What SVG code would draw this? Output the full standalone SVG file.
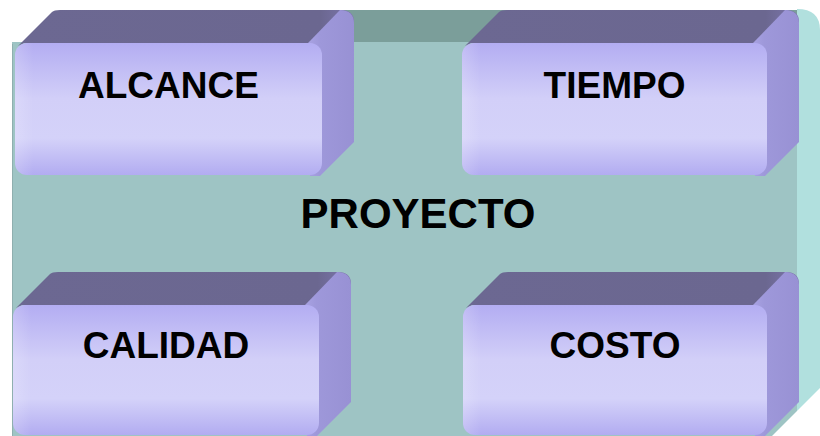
<svg xmlns="http://www.w3.org/2000/svg" width="820" height="436" viewBox="0 0 820 436">
  <defs>
    <linearGradient id="frontGrad" x1="0" y1="0" x2="0" y2="1">
      <stop offset="0" stop-color="#B3ADF2"/>
      <stop offset="0.42" stop-color="#D2CFF8"/>
      <stop offset="0.72" stop-color="#D4D2F9"/>
      <stop offset="1" stop-color="#B2ACF1"/>
    </linearGradient>
    <linearGradient id="edgeGlow" x1="0" y1="0" x2="1" y2="0">
      <stop offset="0" stop-color="#FFFFFF" stop-opacity="0.18"/>
      <stop offset="0.06" stop-color="#FFFFFF" stop-opacity="0"/>
      <stop offset="1" stop-color="#FFFFFF" stop-opacity="0"/>
    </linearGradient>
    <linearGradient id="sideGrad" x1="0" y1="0" x2="1" y2="0">
      <stop offset="0" stop-color="#A8A2E2"/>
      <stop offset="0.25" stop-color="#9E98DA"/>
      <stop offset="1" stop-color="#9891D4"/>
    </linearGradient>
    <linearGradient id="topGrad" x1="0" y1="0" x2="1" y2="0">
      <stop offset="0" stop-color="#6C6892"/>
      <stop offset="0.9" stop-color="#6B6790"/>
      <stop offset="1" stop-color="#7D77AE"/>
    </linearGradient>
    <style>
      .top { fill: url(#topGrad); }
      .side { fill: url(#sideGrad); }
      .front { fill: url(#frontGrad); }
      .glow { fill: url(#edgeGlow); }
      .label { font-family: "Liberation Sans", Arial, sans-serif; font-weight: bold; font-size: 37px; fill: #000; text-anchor: middle; }
      .title { font-size: 42px; }
    </style>
  </defs>

  <rect x="0" y="0" width="820" height="436" fill="#FFFFFF"/>

  <!-- container slab: PROYECTO -->
  <g id="proyecto">
    <rect x="340" y="10" width="457" height="32" fill="#7B9E9A"/>
    <path d="M797,42 L797,9 Q820,9 820,30 L820,436 L797,436 Z" fill="#B1E0DE"/>
    <rect x="12" y="42" width="785" height="400" fill="#9EC4C4"/>
    <line x1="12.5" y1="44" x2="12.5" y2="436" stroke="#8FAFAF" stroke-width="1"/>
    <text class="label title" x="418" y="228">PROYECTO</text>
  </g>

  <!-- ALCANCE -->
  <g id="alcance">
    <path class="top" d="M18,46 L52,12 Q54,10 60,10 L341,10 Q354,10 354,22 L322,56 L322,43 L24,43 Z"/>
    <path class="side" d="M308,43 L340,10 Q354,10 354,24 L354,142 L320,176 L310,176 Z"/>
    <rect class="front" x="15" y="43" width="307" height="132" rx="12"/>
    <rect class="glow" x="15" y="43" width="307" height="132" rx="12"/>
    <text class="label" x="168.5" y="98">ALCANCE</text>
  </g>

  <!-- TIEMPO -->
  <g id="tiempo">
    <path class="top" d="M465,46 L499,12 Q501,10 507,10 L786,10 Q799,10 799,22 L767,56 L767,43 L471,43 Z"/>
    <path class="side" d="M753,43 L785,10 Q799,10 799,24 L799,142 L765,176 L755,176 Z"/>
    <rect class="front" x="462" y="43" width="305" height="132" rx="12"/>
    <rect class="glow" x="462" y="43" width="305" height="132" rx="12"/>
    <text class="label" x="614.5" y="98">TIEMPO</text>
  </g>

  <!-- CALIDAD -->
  <g id="calidad">
    <path class="top" d="M16,308 L50,274 Q52,272 58,272 L338,272 Q351,272 351,284 L319,318 L319,305 L22,305 Z"/>
    <path class="side" d="M305,305 L337,272 Q351,272 351,286 L351,402 L317,436 L307,436 Z"/>
    <rect class="front" x="13" y="305" width="306" height="130" rx="12"/>
    <rect class="glow" x="13" y="305" width="306" height="130" rx="12"/>
    <text class="label" x="166" y="358">CALIDAD</text>
  </g>

  <!-- COSTO -->
  <g id="costo">
    <path class="top" d="M466,308 L500,274 Q502,272 508,272 L786,272 Q799,272 799,284 L767,318 L767,305 L472,305 Z"/>
    <path class="side" d="M753,305 L785,272 Q799,272 799,286 L799,402 L765,436 L755,436 Z"/>
    <rect class="front" x="463" y="305" width="304" height="130" rx="12"/>
    <rect class="glow" x="463" y="305" width="304" height="130" rx="12"/>
    <text class="label" x="615" y="358">COSTO</text>
  </g>

  <!-- bevelled lower-right corner of the slab -->
  <polygon points="772,436 820,388 820,436" fill="#FFFFFF"/>

  <g id="connectors"></g>
</svg>
